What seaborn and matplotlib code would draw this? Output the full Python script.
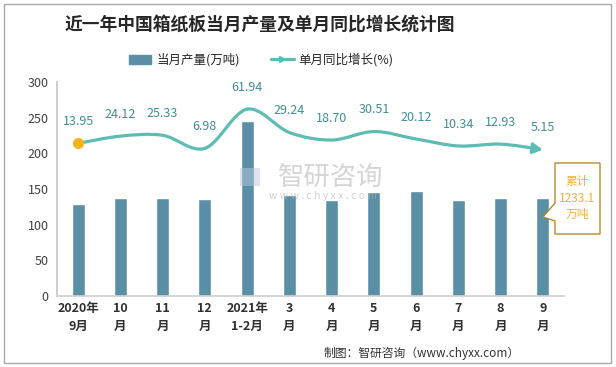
import matplotlib
matplotlib.use("Agg")
import matplotlib.pyplot as plt
import numpy as np
import pandas as pd
import seaborn as sns
from matplotlib.path import Path
from matplotlib.patches import FancyArrowPatch, Rectangle, Polygon, Patch
from matplotlib.lines import Line2D

months = ["2020年\n9月", "10\n月", "11\n月", "12\n月", "2021年\n1-2月", "3\n月",
          "4\n月", "5\n月", "6\n月", "7\n月", "8\n月", "9\n月"]
output = [129.0, 137.4, 137.4, 136.0, 245.6, 141.0, 135.0, 146.0, 146.6, 135.0, 137.6, 137.4]
growth = [13.95, 24.12, 25.33, 6.98, 61.94, 29.24, 18.70, 30.51, 20.12, 10.34, 12.93, 5.15]
total_label = "累计\n1233.1\n万吨"

sns.set_theme(style="white")
plt.rcParams['font.family'] = ['Noto Sans CJK SC', 'DejaVu Sans']

bar_color = "#5B8FA6"
line_color = "#5DBDB4"
label_color = "#3E8E98"

df = pd.DataFrame({"month": months, "output": output})

fig = plt.figure(figsize=(6.16, 3.67), dpi=100)
ax = fig.add_axes([0.0925, 0.1935, 0.823, 0.583])
sns.barplot(data=df, x="month", y="output", color=bar_color, width=0.31,
            saturation=1, ax=ax)
ax.set_ylim(0, 300)
ax.set_xlim(-0.5, len(months) - 0.5)
ax.set_yticks(range(0, 301, 50))
ax.set_xlabel("")
ax.set_ylabel("")
for s in ["top", "right"]:
    ax.spines[s].set_visible(False)
ax.spines["left"].set_color("#c8c8c8")
ax.spines["bottom"].set_color("#d0d0d0")
ax.tick_params(axis="y", length=0, labelsize=9, labelcolor="#404040", pad=6)
ax.set_xticks(np.arange(len(months)))
ax.set_xticklabels(months, fontsize=9, fontweight="bold", color="#303030", linespacing=1.5)
ax.tick_params(axis="x", length=0, pad=4)
ax.set_xticks(np.arange(-0.5, len(months), 1), minor=True)
ax.tick_params(axis="x", which="minor", length=5, color="#d0d0d0", direction="out")

# growth line on a hidden secondary axis
ax2 = ax.twinx()
ax2.set_ylim(-200, 100)
ax2.set_axis_off()
x = np.arange(len(growth), dtype=float)
pts = np.column_stack([x, growth])
verts = [tuple(pts[0])]
codes = [Path.MOVETO]
n = len(pts)
for i in range(n - 1):
    p0 = pts[max(i - 1, 0)]
    p1 = pts[i]
    p2 = pts[i + 1]
    p3 = pts[min(i + 2, n - 1)]
    c1 = p1 + (p2 - p0) / 6.0
    c2 = p2 - (p3 - p1) / 6.0
    verts += [tuple(c1), tuple(c2), tuple(p2)]
    codes += [Path.CURVE4] * 3
path = Path(verts, codes)
arrow = FancyArrowPatch(path=path, arrowstyle="-|>,head_length=4,head_width=2.2",
                        color=line_color, lw=2.3, mutation_scale=1.4,
                        transform=ax2.transData)
ax2.add_patch(arrow)
ax2.plot([x[0]], [growth[0]], "o", color="#F5B41E", ms=7, zorder=5)
for xi, g in zip(x, growth):
    ax2.annotate(f"{g:.2f}", (xi, g), xytext=(0, 11), textcoords="offset points",
                 ha="center", va="bottom", fontsize=9, color=label_color)

# legend
handles = [Patch(color=bar_color, label="当月产量(万吨)"),
           Line2D([0], [0], color=line_color, lw=2.3, marker=">", markevery=[1],
                  ms=5, label="单月同比增长(%)")]
fig.legend(handles=handles, loc="center", bbox_to_anchor=(0.424, 0.837), ncol=2,
           frameon=False, fontsize=9, handlelength=1.8, columnspacing=2.5,
           handletextpad=0.4)

fig.text(0.422, 0.932, "近一年中国箱纸板当月产量及单月同比增长统计图", ha="center", va="center",
         fontsize=12.8, fontweight="bold", color="#262626")

# watermark
fig.text(0.537, 0.518, "智研咨询", ha="center", va="center", fontsize=19,
         color="#b4b4b4", alpha=0.55)
fig.text(0.525, 0.466, "w w w . c h y x x . c o m", ha="center", va="center",
         fontsize=7.5, color="#b4b4b4", alpha=0.6)
fig.patches.append(Rectangle((240 / 616, 1 - 186 / 367), 20 / 616, 18 / 367,
                             transform=fig.transFigure, fc="#b8c8dc", ec="none", alpha=0.5))

# cumulative callout
W, H = 616.0, 367.0
callout = [(555, 163), (600, 163), (600, 234), (555, 234), (555, 221), (543, 217), (555, 203)]
fig.patches.append(Polygon([(px / W, 1 - py / H) for px, py in callout], closed=True,
                           transform=fig.transFigure, fc="white", ec="#B8892E", lw=1))
fig.text(577 / W, 1 - 198 / H, total_label, ha="center", va="center", fontsize=8.5,
         color="#F2B130", linespacing=1.35)

fig.text(0.684, 0.038, "制图：智研咨询（www.chyxx.com）", ha="center", va="center",
         fontsize=8.5, color="#333333")

fig.patches.append(Rectangle((0.007, 0.012), 0.985, 0.978, transform=fig.transFigure,
                             fill=False, ec="#a8a8a8", lw=1))

fig.savefig("out.png", dpi=100)
